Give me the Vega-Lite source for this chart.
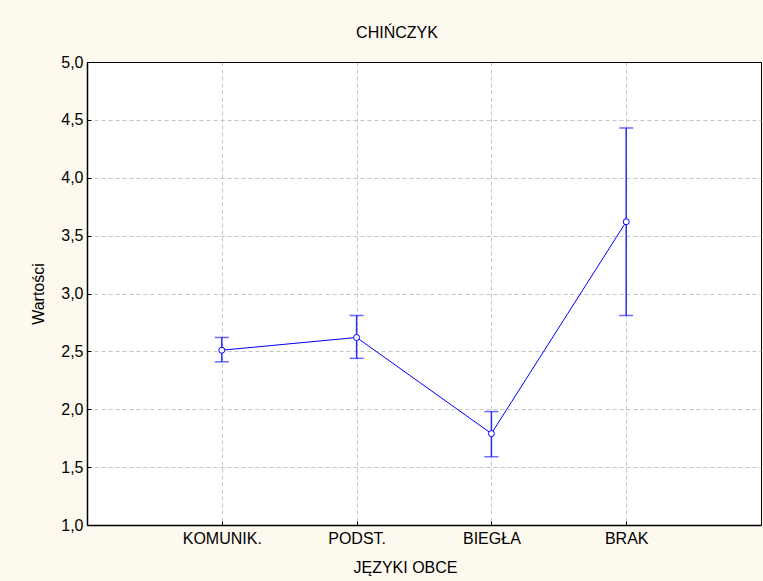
{
  "$schema": "https://vega.github.io/schema/vega-lite/v6.json",
  "autosize": {"type": "none"},
  "width": 674,
  "height": 463,
  "padding": {"left": 87, "top": 62, "right": 2, "bottom": 56},
  "background": "#fdf9ee",
  "config": {
    "font": "Liberation Sans",
    "view": {"fill": "white", "stroke": "black", "strokeWidth": 1},
    "axis": {"labelFont": "Liberation Sans", "titleFont": "Liberation Sans", "labelFontSize": 16, "titleFontSize": 16, "titleFontWeight": "normal", "labelColor": "black", "titleColor": "black", "domainColor": "black", "gridColor": "#c4c4c4", "gridDash": [4, 3], "gridWidth": 1, "tickColor": "black"},
    "axisY": {"title": "Wartości", "values": [1, 1.5, 2, 2.5, 3, 3.5, 4, 4.5, 5], "ticks": true, "tickSize": -4, "labelPadding": 8, "titlePadding": 14, "labelExpr": "replace(format(datum.value, '.1f'), '.', ',')", "grid": true, "domainWidth": 1.5,
      "gridColor": {"condition": {"test": "datum.value >= 4.99", "value": "black"}, "value": "#c4c4c4"},
      "gridDash": {"condition": {"test": "datum.value >= 4.99", "value": []}, "value": [4, 3]}}
  },
  "title": {"text": "CHIŃCZYK", "font": "Liberation Sans", "fontSize": 16, "fontWeight": "normal", "color": "black", "anchor": "middle", "dx": -27, "offset": 13},
  "data": {"values": [
    {"cat": "KOMUNIK.", "mean": 2.51, "lo": 2.41, "hi": 2.62},
    {"cat": "PODST.", "mean": 2.62, "lo": 2.44, "hi": 2.81},
    {"cat": "BIEGŁA", "mean": 1.79, "lo": 1.59, "hi": 1.98},
    {"cat": "BRAK", "mean": 3.62, "lo": 2.81, "hi": 4.43}
  ]},
  "encoding": {
    "x": {"field": "cat", "type": "nominal", "sort": null,
      "scale": {"type": "point", "padding": 1},
      "axis": {"title": "JĘZYKI OBCE", "labelAngle": 0, "ticks": true, "tickSize": -4, "labelPadding": 9, "titleX": 318, "titleY": 47, "titleBaseline": "alphabetic", "grid": true, "domainWidth": 1.5}}
  },
  "layer": [
    {
      "mark": {"type": "rule", "color": "#2a2aff", "strokeWidth": 1.5},
      "encoding": {
        "y": {"field": "lo", "type": "quantitative", "title": "Wartości", "scale": {"domain": [1, 5], "nice": false, "zero": false}},
        "y2": {"field": "hi"}
      }
    },
    {
      "mark": {"type": "tick", "color": "#2a2aff", "size": 14, "thickness": 1.5},
      "encoding": {"y": {"field": "lo", "type": "quantitative", "title": "Wartości"}}
    },
    {
      "mark": {"type": "tick", "color": "#2a2aff", "size": 14, "thickness": 1.5},
      "encoding": {"y": {"field": "hi", "type": "quantitative", "title": "Wartości"}}
    },
    {
      "mark": {"type": "line", "color": "#0000ff", "strokeWidth": 1},
      "encoding": {"y": {"field": "mean", "type": "quantitative", "title": "Wartości"}}
    },
    {
      "mark": {"type": "point", "shape": "circle", "filled": true, "fill": "white", "stroke": "#0000ff", "strokeWidth": 1, "size": 36, "opacity": 1},
      "encoding": {"y": {"field": "mean", "type": "quantitative", "title": "Wartości"}}
    }
  ]
}
